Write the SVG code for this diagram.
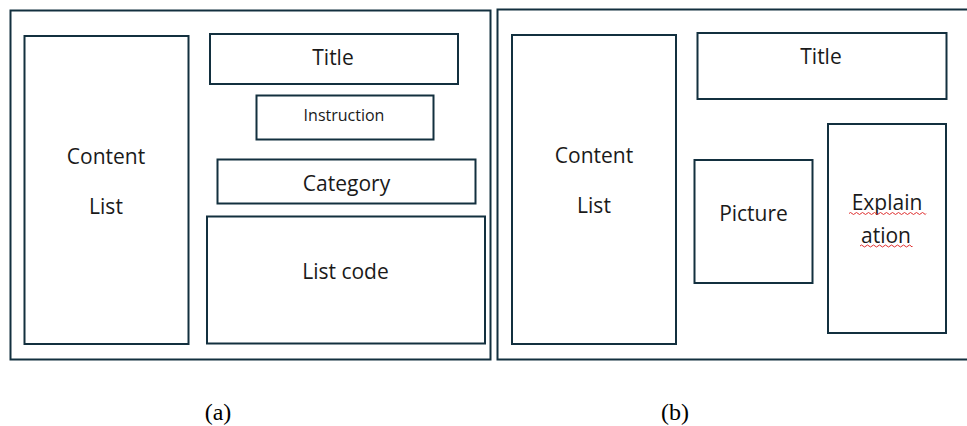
<svg xmlns="http://www.w3.org/2000/svg" width="967" height="426" viewBox="0 0 967 426">
  <style>
    .box { fill: #ffffff; stroke: #13303f; stroke-width: 2; }
    .lbl { font-family: "Open Sans", "Liberation Sans", sans-serif; font-size: 21px; fill: #1a1a1a; text-anchor: middle; }
    .small { font-size: 16px; }
    .cap { font-family: "Liberation Serif", serif; font-size: 24px; fill: #000000; text-anchor: middle; }
    .squiggle { fill: none; stroke: #e03030; stroke-width: 1; }
  </style>
  <rect width="967" height="426" fill="#ffffff"/>

  <!-- Layout (a) -->
  <g id="frame-a"><rect class="box" x="10.5" y="10.5" width="480" height="349"/></g>
  <g id="a-content-list">
    <rect class="box" x="24.5" y="36" width="164" height="308"/>
    <text class="lbl" x="106" y="164">Content</text>
    <text class="lbl" x="106" y="214">List</text>
  </g>
  <g id="a-title">
    <rect class="box" x="210" y="34" width="248" height="50"/>
    <text class="lbl" x="333" y="65">Title</text>
  </g>
  <g id="a-instruction">
    <rect class="box" x="256.5" y="95.5" width="177" height="44"/>
    <text class="lbl small" x="344" y="120.5">Instruction</text>
  </g>
  <g id="a-category">
    <rect class="box" x="217.5" y="159.5" width="258" height="44"/>
    <text class="lbl" x="346.5" y="190.5">Category</text>
  </g>
  <g id="a-list-code">
    <rect class="box" x="207" y="216.5" width="278" height="127"/>
    <text class="lbl" x="345.5" y="278.5">List code</text>
  </g>
  <text class="cap" x="218" y="420">(a)</text>

  <!-- Layout (b) -->
  <g id="frame-b"><rect class="box" x="497.5" y="9.5" width="480" height="350"/></g>
  <g id="b-content-list">
    <rect class="box" x="512" y="35" width="164" height="309"/>
    <text class="lbl" x="594" y="163">Content</text>
    <text class="lbl" x="594" y="213">List</text>
  </g>
  <g id="b-title">
    <rect class="box" x="697.5" y="33" width="249" height="66"/>
    <text class="lbl" x="821" y="64">Title</text>
  </g>
  <g id="b-picture">
    <rect class="box" x="694.5" y="160" width="118" height="123"/>
    <text class="lbl" x="753.5" y="220.5">Picture</text>
  </g>
  <g id="b-explanation">
    <rect class="box" x="828" y="124" width="118" height="209"/>
    <text class="lbl" x="887" y="210">Explain</text>
    <text class="lbl" x="886" y="243">ation</text>
    <path class="squiggle" d="M849 213.5 q1.5 -2 3 0 t3 0 t3 0 t3 0 t3 0 t3 0 t3 0 t3 0 t3 0 t3 0 t3 0 t3 0 t3 0 t3 0 t3 0 t3 0 t3 0 t3 0 t3 0 t3 0 t3 0 t3 0 t3 0 t3 0 t3 0 t2 0"/>
    <path class="squiggle" d="M860 246 q1.5 -2 3 0 t3 0 t3 0 t3 0 t3 0 t3 0 t3 0 t3 0 t3 0 t3 0 t3 0 t3 0 t3 0 t3 0 t3 0 t3 0 t3 0 t1 0"/>
  </g>
  <text class="cap" x="675" y="420">(b)</text>

  <!-- no connectors in this layout -->
  <g id="connectors"></g>
</svg>
